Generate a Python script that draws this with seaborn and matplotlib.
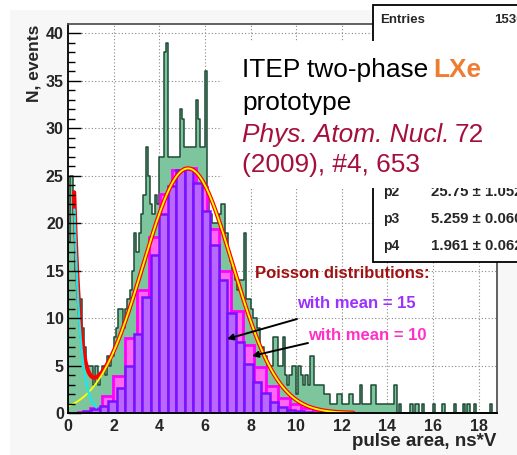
import numpy as np
import pandas as pd
import matplotlib
matplotlib.use("Agg")
import matplotlib.pyplot as plt
import seaborn as sns
from matplotlib.patches import Rectangle
from matplotlib.ticker import MultipleLocator

# ---------------- data ----------------
green_bin_width = 0.1
green_counts = [
    18, 25, 21, 15, 13, 12, 9, 7, 5, 5,
    5, 3, 5, 3, 4, 5, 4, 6, 5, 6,
    8, 9, 11, 11, 9, 11, 12, 13, 15, 19,
    17, 19, 21, 23, 28, 25, 22, 21, 23, 22,
    27, 27, 38, 39, 27, 27, 27, 27, 27, 32,
    31, 28, 28, 28, 28, 28, 33, 31, 28, 28,
    36, 23, 21, 20, 20, 20, 21, 22, 22, 19,
    17, 16, 15, 14, 13, 14, 14, 19, 12, 12,
    11, 10, 10, 9, 7, 7, 6, 5, 5, 5,
    8, 8, 5, 5, 8, 4, 3, 4, 5, 5,
    2, 5, 4, 3, 4, 3, 6, 6, 3, 3,
    3, 3, 2, 2, 2, 1, 1, 1, 2, 2,
    1, 1, 1, 2, 2, 1, 1, 1, 3, 1,
    1, 1, 1, 3, 3, 1, 1, 1, 1, 1,
    1, 1, 1, 3, 0, 1, 0, 0, 0, 0,
    1, 0, 1, 1, 0, 1, 0, 0, 0, 0,
    1, 0, 0, 0, 1, 0, 0, 0, 0, 1,
    0, 0, 0, 1, 0, 1, 0, 0, 1, 0,
    0, 0, 0, 0, 0, 1, 0, 0, 0, 0,
]

purple_start, purple_bin_width = 0.65, 0.372
purple_counts = [0.2, 0.4, 0.7, 1.3, 2.6, 4.95, 8.3, 12.2, 16.6, 20.9,
                 23.9, 25.6, 25.65, 24.2, 21.3, 17.7, 14.0, 10.5, 7.5, 5.2,
                 3.3, 2.1, 1.2, 0.66, 0.35, 0.18, 0.1, 0.05, 0.03, 0.02]

magenta_start, magenta_bin_width = 0.445, 0.515
magenta_counts = [0.15, 0.5, 1.8, 3.9, 7.9, 12.9, 18.5, 23.1, 25.6, 25.8,
                  23.8, 19.4, 14.9, 10.7, 7.2, 4.8, 2.8, 1.6, 0.9, 0.5,
                  0.3, 0.15, 0.1, 0.05, 0.03]

# fit: expo(p0 + p1*x) + gaus(p2, p3, p4)
p0, p1 = 4.1, -3.7
p2, p3, p4 = 25.75, 5.259, 1.961
fit_range = (0.27, 12.5)
expo_range = (0.28, 1.25)

entries = 1530
stat_labels = ["p2", "p3", "p4"]
stat_values = ["25.75 \u00b1 1.052", "5.259 \u00b1 0.060", "1.961 \u00b1 0.062"]

x_ticks = [0, 2, 4, 6, 8, 10, 12, 14, 16, 18]
y_ticks = [0, 5, 10, 15, 20, 25, 30, 35, 40]

# ---------------- style ----------------
sns.set_theme(style="white")
plt.rcParams['font.family'] = ['Liberation Sans', 'DejaVu Sans']

W, H = 517, 455
fig = plt.figure(figsize=(W / 100, H / 100), dpi=100)
fig.patch.set_facecolor("white")


def fp(X, Y):
    return X / W, 1 - Y / H


fig.patches.append(Rectangle((10 / W, 0), 1, 1 - 10 / H, transform=fig.transFigure,
                             facecolor="#F7F7F7", edgecolor="none", zorder=-1))

ax = fig.add_axes([68 / W, 42 / H, 429 / W, 389 / H])
ax.set_facecolor("white")


def hist_frame(start, width, counts):
    edges = start + np.arange(len(counts) + 1) * width
    df = pd.DataFrame({"x": (edges[:-1] + edges[1:]) / 2, "w": counts})
    return df, list(edges)


# green measured histogram
g_df, g_edges = hist_frame(0.0, green_bin_width, green_counts)
sns.histplot(data=g_df, x="x", weights="w", bins=g_edges, element="step",
             fill=True, color="#7CC59D", edgecolor="#1F4A36", linewidth=1.1,
             alpha=1, ax=ax, zorder=2)

# magenta Poisson (mean 10)
m_df, m_edges = hist_frame(magenta_start, magenta_bin_width, magenta_counts)
sns.histplot(data=m_df, x="x", weights="w", bins=m_edges, element="bars",
             fill=True, color="#FF66F2", edgecolor="#FF00FF", linewidth=2.0,
             alpha=1, ax=ax, zorder=3)

# purple Poisson (mean 15)
p_df, p_edges = hist_frame(purple_start, purple_bin_width, purple_counts)
sns.histplot(data=p_df, x="x", weights="w", bins=p_edges, element="bars",
             fill=True, color="#B868FF", edgecolor="#7A10FF", linewidth=1.8,
             alpha=1, ax=ax, zorder=4)

# fit curves
gauss = lambda x: p2 * np.exp(-0.5 * ((x - p3) / p4) ** 2)
expo = lambda x: np.exp(p0 + p1 * x)
xf = np.linspace(fit_range[0], fit_range[1], 600)
sns.lineplot(x=xf, y=expo(xf) + gauss(xf), color="#FF0000", lw=3.0, ax=ax, zorder=5)
xg = np.linspace(0, fit_range[1], 600)
sns.lineplot(x=xg, y=gauss(xg), color="#FFFF00", lw=1.3, ax=ax, zorder=6)
xe = np.linspace(expo_range[0], expo_range[1], 200)
sns.lineplot(x=xe, y=expo(xe), color="#22E5E5", lw=1.8, ax=ax, zorder=7)

# axes
ax.set_xlim(0, 18.8)
ax.set_ylim(0, 40.95)
ax.set_xticks(x_ticks)
ax.set_yticks(y_ticks)
ax.set_xticklabels([str(t) for t in x_ticks], fontweight="bold", fontsize=11.5)
ax.set_yticklabels([str(t) for t in y_ticks], fontweight="bold", fontsize=11.5)
ax.yaxis.set_minor_locator(MultipleLocator(1))
ax.tick_params(axis="y", which="major", direction="in", length=9.5, width=1.0,
               color="black", pad=3)
ax.tick_params(axis="y", which="minor", direction="in", length=5, width=1.0, color="black")
ax.tick_params(axis="x", which="major", direction="in", length=0, pad=4)
ax.tick_params(axis="both", which="both", bottom=True, left=True, top=False, right=False)
ax.set_xlabel("")
ax.set_ylabel("")
ax.grid(False)
for t in x_ticks[1:]:
    ax.axvline(t, linestyle=(0, (1, 2)), color="#888888", lw=0.8, zorder=1)
for t in y_ticks[1:]:
    ax.axhline(t, linestyle=(0, (1, 2)), color="#888888", lw=0.8, zorder=1)
ax.xaxis.set_zorder(9)
ax.yaxis.set_zorder(9)
for s in ["left", "bottom"]:
    ax.spines[s].set_color("black")
    ax.spines[s].set_linewidth(1.3)
for s in ["top", "right"]:
    ax.spines[s].set_color("#555555")
    ax.spines[s].set_linewidth(1.3)
for sp in ax.spines.values():
    sp.set_zorder(10)

# axis titles
fig.text(*fp(34, 25), "N, events", rotation=90, ha="center", va="top",
         fontsize=12.5, fontweight="bold")
fig.text(*fp(496, 442), "pulse area, ns*V", ha="right", va="center",
         fontsize=13.5, fontweight="bold")

# annotations
ax.text(*fp(255, 273), "Poisson distributions:", transform=fig.transFigure,
        ha="left", va="center", fontsize=12, fontweight="bold", color="#A01212", zorder=12)
ax.text(*fp(297, 303), "with mean = 15", transform=fig.transFigure,
        ha="left", va="center", fontsize=12, fontweight="bold", color="#9B30FF", zorder=12)
ax.text(*fp(308, 335), "with mean = 10", transform=fig.transFigure,
        ha="left", va="center", fontsize=12, fontweight="bold", color="#FF30C8", zorder=12)
arrow = dict(arrowstyle="-|>", color="black", lw=1.4, mutation_scale=9, shrinkA=0, shrinkB=0)
ax.annotate("", xy=fp(227, 339), xycoords="figure fraction",
            xytext=fp(297, 319), textcoords="figure fraction", arrowprops=arrow, zorder=12)
ax.annotate("", xy=fp(252, 356), xycoords="figure fraction",
            xytext=fp(308, 343), textcoords="figure fraction", arrowprops=arrow, zorder=12)

# stats box
fig.patches.append(Rectangle(fp(373, 262), (600 - 373) / W, (262 - 5) / H,
                             transform=fig.transFigure, facecolor="white",
                             edgecolor="black", lw=1.3, zorder=20))
fig.text(*fp(380, 20), "Entries", ha="left", va="center", fontsize=9.5,
         fontweight="bold", zorder=21)
fig.text(*fp(494, 20), str(entries), ha="left", va="center", fontsize=9.5,
         fontweight="bold", zorder=21)
for i, (lab, val) in enumerate(zip(stat_labels, stat_values)):
    Y = 192 + 27 * i
    fig.text(*fp(383, Y), lab, ha="left", va="center", fontsize=10,
             fontweight="bold", zorder=21)
    fig.text(*fp(477, Y), val, ha="center", va="center", fontsize=10.8,
             fontweight="bold", zorder=21)

# white overlay text box
fig.patches.append(Rectangle(fp(222, 188), (600 - 222) / W, (188 - 41) / H,
                             transform=fig.transFigure, facecolor="white",
                             edgecolor="none", zorder=30))
fig.canvas.draw()
r = fig.canvas.get_renderer()
crimson = "#A50F3D"
fs = 18.9
t1 = fig.text(*fp(242, 77), "ITEP two-phase", ha="left", va="baseline",
              fontsize=fs, color="black", zorder=31)
bb = t1.get_window_extent(r)
fig.text(bb.x1 / W + 5.4 / W, 1 - 77 / H, "LXe", ha="left", va="baseline",
         fontsize=fs, fontweight="bold", color="#EE7D31", zorder=31)
fig.text(*fp(242, 110), "prototype", ha="left", va="baseline",
         fontsize=fs, color="black", zorder=31)
t3 = fig.text(*fp(242, 142), "Phys. Atom. Nucl.", ha="left", va="baseline",
              fontsize=fs, style="italic", color=crimson, zorder=31)
bb3 = t3.get_window_extent(r)
fig.text(bb3.x1 / W + 5.4 / W, 1 - 142 / H, "72", ha="left", va="baseline",
         fontsize=fs, color=crimson, zorder=31)
fig.text(*fp(242, 172), "(2009), #4, 653", ha="left", va="baseline",
         fontsize=fs, color=crimson, zorder=31)

fig.savefig("out.png", dpi=100)
